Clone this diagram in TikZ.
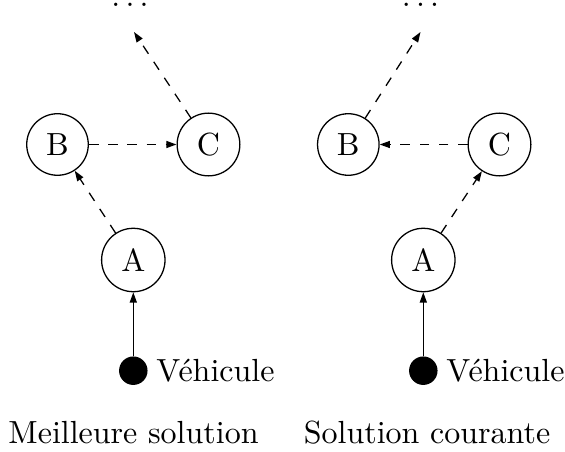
\documentclass[tikz,border=0pt]{standalone}
\usepackage{fontspec}
\usetikzlibrary{arrows.meta}
\begin{document}
\begin{tikzpicture}[x=0.3125pt,y=-0.3125pt,
  pointe/.tip={Triangle[length=3.2pt,width=2.2pt]},
  etat/.style={draw,circle,line width=0.4pt},
  vehicule/.style={circle,fill=black,inner sep=0pt,minimum size=8.9pt},
  lien/.style={-pointe,dashed,line width=0.4pt},
  trajet/.style={-pointe,line width=0.4pt}]
\useasboundingbox (0,0) rectangle (565,452);

% Meilleure solution
\node[etat] (lB) at (57.5,144.5) {B};
\node[etat] (lC) at (208.5,144.5) {C};
\node[etat] (lA) at (133.3,260) {A};
\node[vehicule,label={[label distance=-1pt]right:Véhicule}] (lV) at (133.3,370.7) {};
\coordinate (lE) at (134,32);
\node[anchor=base] (lD) at (130,7) {$\ldots$};
\draw[trajet] (lV) -- (lA);
\draw[lien] (lA) -- (lB);
\draw[lien] (lB) -- (lC);
\draw[lien] (lC) -- (lE);
\node[anchor=base] (lT) at (133.5,443.3) {Meilleure solution};

% Solution courante
\node[etat] (rB) at (348.3,144.5) {B};
\node[etat] (rC) at (499.5,144.5) {C};
\node[etat] (rA) at (423.3,260) {A};
\node[vehicule,label={[label distance=-1pt]right:Véhicule}] (rV) at (423.3,370.7) {};
\coordinate (rE) at (420.5,32);
\node[anchor=base] (rD) at (420.5,7) {$\ldots$};
\draw[trajet] (rV) -- (rA);
\draw[lien] (rA) -- (rC);
\draw[lien] (rC) -- (rB);
\draw[lien] (rB) -- (rE);
\node[anchor=base] (rT) at (427,443.3) {Solution courante};
\end{tikzpicture}
\end{document}
